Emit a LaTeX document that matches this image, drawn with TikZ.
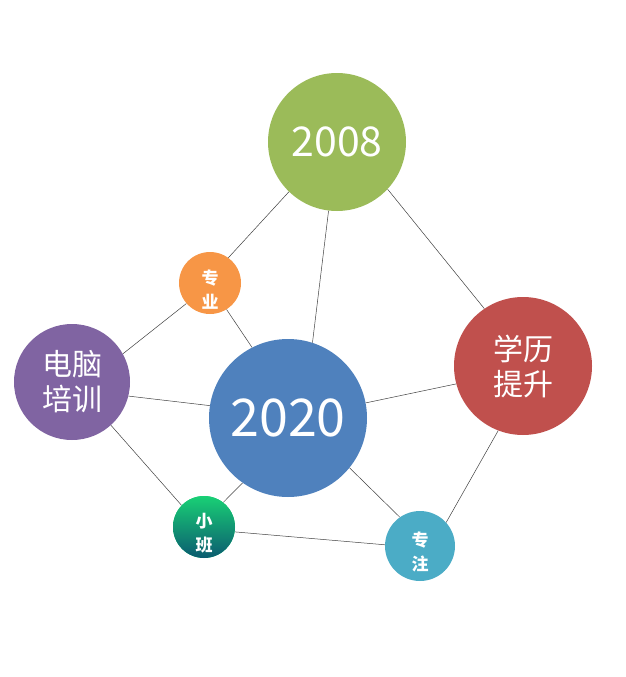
\documentclass[tikz,border=0pt]{standalone}
\usepackage{fontspec}
\setmainfont{Noto Sans CJK SC}
\usepackage{tikz}
\usetikzlibrary{backgrounds}
\definecolor{cGreen}{HTML}{9BBB59}
\definecolor{cBlue}{HTML}{4F81BD}
\definecolor{cRed}{HTML}{C0504D}
\definecolor{cPurple}{HTML}{8064A2}
\definecolor{cOrange}{HTML}{F79646}
\definecolor{cTeal}{HTML}{4BACC6}
\definecolor{cMintTop}{HTML}{19D075}
\definecolor{cMintBot}{HTML}{0B5B70}
\definecolor{cLink}{HTML}{404040}
\tikzset{
  ball/.style={circle, fill=#1, draw=none, text=white, align=center,
               inner sep=0pt},
  big/.style={ball=#1, font=\fontsize{30}{35}\selectfont},
  small/.style={ball=#1, font=\fontsize{17}{24}\selectfont\bfseries,
                text height=51pt},
  link/.style={draw=cLink, line width=0.5pt},
}
\begin{document}
\begin{tikzpicture}[x=1pt, y=-1pt]
  \useasboundingbox (0,0) rectangle (626,677);

  \node[ball=cBlue, minimum size=158pt, font=\fontsize{52}{60}\selectfont] (y2020) at (288,418) {2020};
  \node[ball=cGreen, minimum size=138pt, font=\fontsize{41}{50}\selectfont] (y2008) at (337,142) {2008};
  \node[big=cRed, minimum size=138pt] (edu) at (523,366) {学历\\提升};
  \node[big=cPurple, minimum size=116pt] (pc) at (72,382) {电脑\\培训};
  \node[small=cOrange, minimum size=62pt] (pro) at (210,283) {专\\业};
  \node[small=cTeal, minimum size=70pt] (focus) at (420,546) {专\\注};
  \node[small=cMintTop, top color=cMintTop, bottom color=cMintBot,
        minimum size=62pt] (cls) at (204,527) {小\\班};

  % links behind the balls
  \begin{scope}[on background layer]
    \draw[link] (y2008.226) -- (pro.54);
    \draw[link] (y2008.263) -- (y2020.72);
    \draw[link] (y2008.317) -- (edu.124);
    \draw[link] (pro.221) -- (pc.29);
    \draw[link] (pro.302) -- (y2020.117);
    \draw[link] (pc.346) -- (y2020.171);
    \draw[link] (pc.312) -- (cls.136);
    \draw[link] (y2020.11) -- (edu.195);
    \draw[link] (y2020.235) -- (cls.52);
    \draw[link] (y2020.321) -- (focus.125);
    \draw[link] (edu.249) -- (focus.42);
    \draw[link] (cls.351) -- (focus.178);
  \end{scope}
\end{tikzpicture}
\end{document}
